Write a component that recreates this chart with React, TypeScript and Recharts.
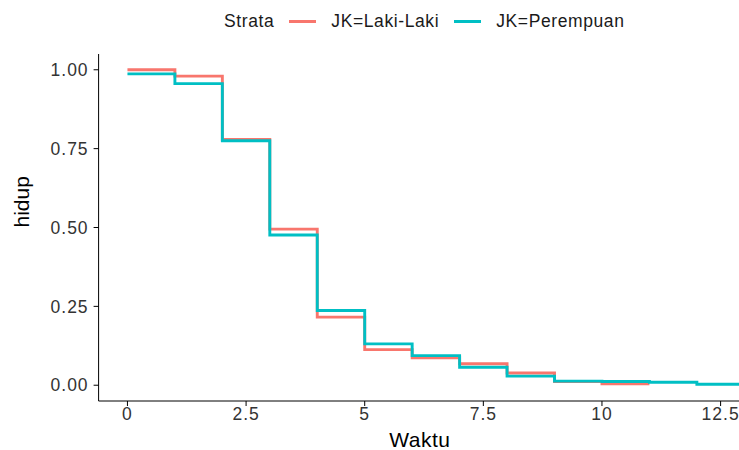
import { LineChart, Line, XAxis, YAxis } from "recharts";

// survival step values per time point (Kaplan-Meier)
const timeLaki = [0, 1, 2, 3, 4, 5, 6, 7, 8, 9, 10, 11];
const survLaki = [1.0, 0.98, 0.779, 0.495, 0.216, 0.113, 0.087, 0.068, 0.039, 0.012, 0.0045, 0.0045];

const timePerempuan = [0, 1, 2, 3, 4, 5, 6, 7, 8, 9, 10, 11, 12, 13];
const survPerempuan = [0.987, 0.956, 0.775, 0.476, 0.237, 0.131, 0.094, 0.057, 0.029, 0.013, 0.012, 0.0095, 0.003, 0.003];

const xTicks = [0, 2.5, 5, 7.5, 10, 12.5];
const yTicks = [0, 0.25, 0.5, 0.75, 1];

const lakiData = timeLaki.map((t, i) => ({ t, s: survLaki[i] }));
const perempuanData = timePerempuan.map((t, i) => ({ t, s: survPerempuan[i] }));

const font = "'Liberation Sans', Arial, sans-serif";

export default function App() {
    return (
        <div style={{ position: "fixed", left: 0, top: 0, width: 739, height: 450, overflow: "hidden", background: "#fff", fontFamily: font }}>

            {/* Legend */}
            <div style={{ position: "absolute", top: 11, left: 224, display: "flex", alignItems: "center", fontSize: 17.5, letterSpacing: 0.6, color: "#1a1a1a", whiteSpace: "nowrap" }}>
                <span>Strata</span>
                <span style={{ display: "inline-block", width: 27, height: 3, background: "#F8766D", margin: "0 15px 0 15px" }} />
                <span>JK=Laki-Laki</span>
                <span style={{ display: "inline-block", width: 27, height: 3, background: "#00BFC4", margin: "0 15px 0 15px" }} />
                <span>JK=Perempuan</span>
            </div>

            <LineChart width={745} height={450} margin={{ top: 54, right: 4, left: 0, bottom: 0 }}>
                <XAxis
                    type="number"
                    dataKey="t"
                    domain={[-0.608, 12.93]}
                    ticks={xTicks}
                    allowDataOverflow
                    height={49}
                    tickSize={5}
                    tickMargin={2}
                    stroke="#000"
                    tick={{ fill: "#333", fontSize: 17.5, fontFamily: font, letterSpacing: 1 }}
                    label={{ value: "Waktu", position: "insideBottom", offset: 3, fill: "#000", fontSize: 21, fontFamily: font, letterSpacing: 0.5 }}
                />
                <YAxis
                    type="number"
                    domain={[-0.05, 1.05]}
                    ticks={yTicks}
                    allowDataOverflow
                    width={98.6}
                    tickSize={5}
                    tickMargin={5}
                    stroke="#000"
                    tickFormatter={(v: number) => v.toFixed(2)}
                    tick={{ fill: "#333", fontSize: 17.5, fontFamily: font, letterSpacing: 1 }}
                    label={{ value: "hidup", angle: -90, position: "insideLeft", offset: 22, fill: "#000", fontSize: 21, fontFamily: font }}
                />
                <Line
                    data={lakiData}
                    dataKey="s"
                    type="stepAfter"
                    stroke="#F8766D"
                    strokeWidth={2.9}
                    dot={false}
                    isAnimationActive={false}
                />
                <Line
                    data={perempuanData}
                    dataKey="s"
                    type="stepAfter"
                    stroke="#00BFC4"
                    strokeWidth={2.9}
                    dot={false}
                    isAnimationActive={false}
                />
            </LineChart>
        </div>
    );
}
